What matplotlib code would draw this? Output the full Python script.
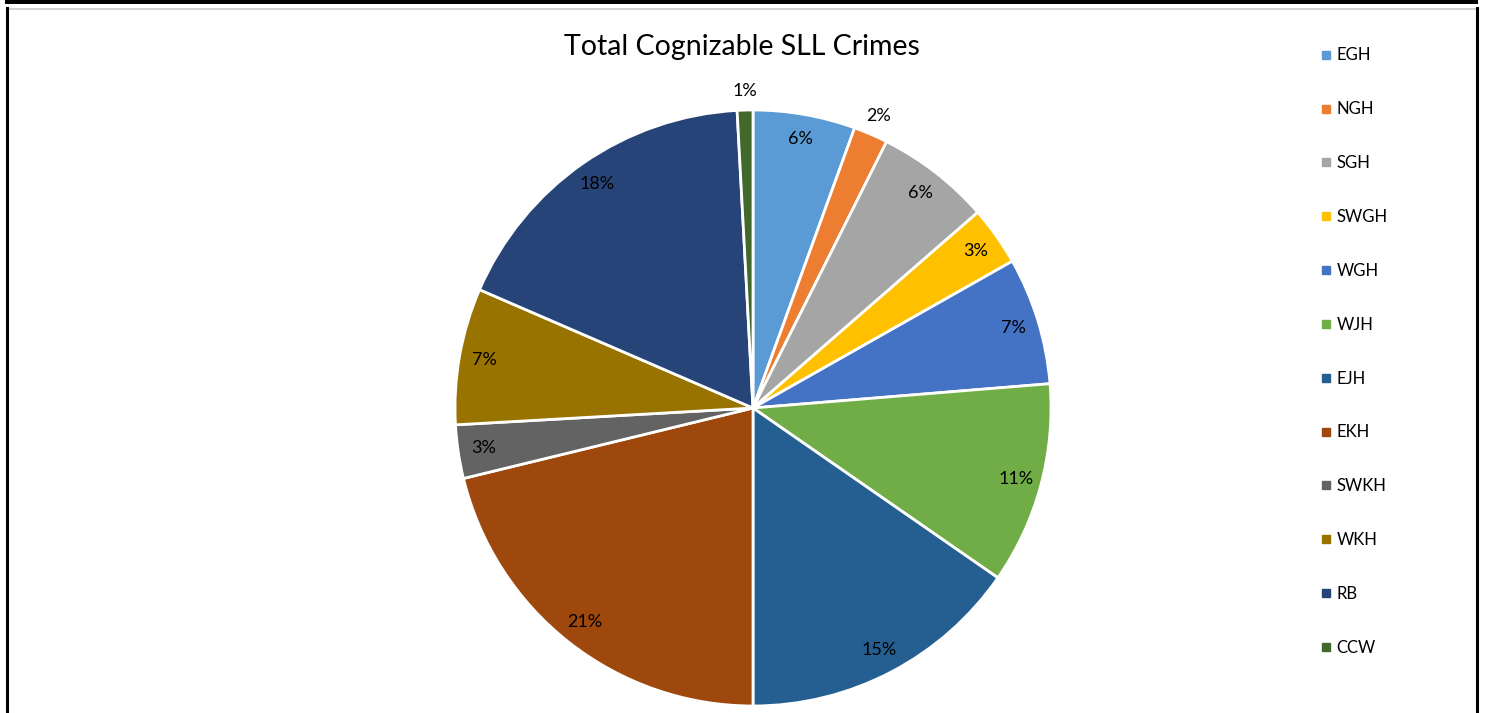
import matplotlib
matplotlib.use("Agg")
import matplotlib.pyplot as plt
from matplotlib.lines import Line2D
from matplotlib.patches import Rectangle
import numpy as np

categories = ["EGH", "NGH", "SGH", "SWGH", "WGH", "WJH", "EJH", "EKH", "SWKH", "WKH", "RB", "CCW"]
shares = [5.54, 1.86, 6.2, 3.2, 6.9, 10.95, 15.35, 21.2, 2.9, 7.4, 17.65, 0.85]
colors = ["#5B9BD5", "#ED7D31", "#A5A5A5", "#FFC000", "#4472C4", "#70AD47",
          "#255E91", "#9E480E", "#636363", "#997300", "#264478", "#43682B"]
title = "Total Cognizable SLL Crimes"

plt.rcParams['font.family'] = ['Lato', 'DejaVu Sans']

W, H = 1487, 713
fig = plt.figure(figsize=(W / 100, H / 100), dpi=100)

# frame decorations
fig.add_artist(Rectangle((5 / W, 1 - 3.5 / H), 1473 / W, 3.5 / H, transform=fig.transFigure,
                         facecolor="black", edgecolor="none"))
fig.add_artist(Line2D([7 / W, 1476 / W], [1 - 8.5 / H, 1 - 8.5 / H], transform=fig.transFigure,
                      color="#c8c8c8", lw=1.2))
fig.add_artist(Line2D([7 / W, 7 / W], [0, 1 - 8 / H], transform=fig.transFigure, color="black", lw=2.2))
fig.add_artist(Line2D([1476.5 / W, 1476.5 / W], [0, 1 - 8 / H], transform=fig.transFigure,
                      color="black", lw=2.2))

cx, cy, R = 753, 408, 298
ax = fig.add_axes([(cx - R) / W, (H - cy - R) / H, 2 * R / W, 2 * R / H])
wedges, _ = ax.pie(shares, colors=colors, startangle=90, counterclock=False, radius=1,
                   wedgeprops=dict(edgecolor="white", linewidth=2))
ax.set_xlim(-1, 1)
ax.set_ylim(-1, 1)
ax.set_aspect("equal")
ax.axis("off")

total = sum(shares)
for w, v in zip(wedges, shares):
    ang = np.deg2rad((w.theta1 + w.theta2) / 2)
    pct = v / total * 100
    r = 1.065 if pct < 2.5 else 0.915
    ax.text(r * np.cos(ang), r * np.sin(ang), f"{pct:.0f}%", ha="center", va="center",
            fontsize=13, color="#000000")

fig.text(742 / W, 1 - 47 / H, title, ha="center", va="center", fontsize=20.5, color="#000000")

handles = [Line2D([], [], marker="s", linestyle="none", markersize=5.5, markerfacecolor=c,
                  markeredgecolor=c) for c in colors]
fig.legend(handles, categories, loc="upper left", bbox_to_anchor=(1305.5 / W, 1 - 32.5 / H),
           frameon=False, fontsize=12, labelspacing=2.27, handlelength=0.6, handletextpad=0.35)

fig.savefig("out.png", dpi=100)
